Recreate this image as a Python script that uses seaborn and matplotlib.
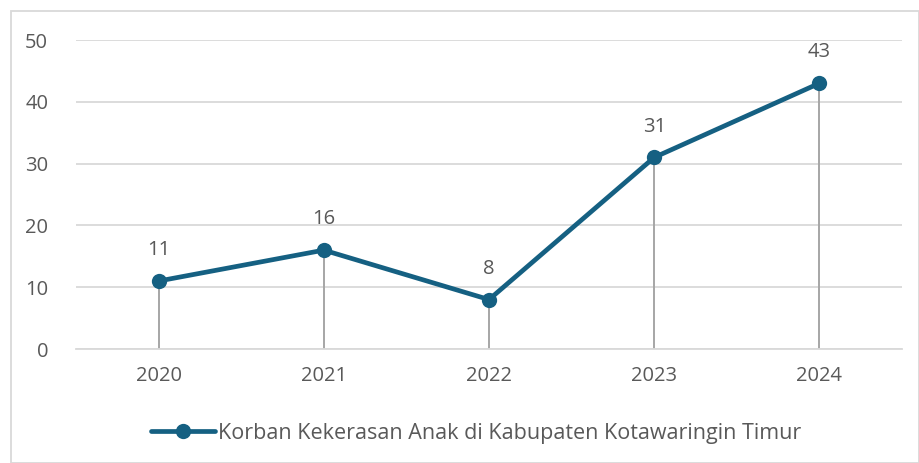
import matplotlib
matplotlib.use("Agg")
import matplotlib.pyplot as plt
import pandas as pd
import seaborn as sns
from matplotlib.patches import Rectangle

years = ["2020", "2021", "2022", "2023", "2024"]
victims = [11, 16, 8, 31, 43]
series_name = "Korban Kekerasan Anak di Kabupaten Kotawaringin Timur"

df = pd.DataFrame({"year": years, "value": victims})
df["pos"] = range(len(years))

sns.set_style("white")
plt.rcParams["font.family"] = ["Open Sans", "DejaVu Sans"]

line_color = "#156082"
text_color = "#595959"
fs = 14.5

fig = plt.figure(figsize=(9.19, 4.63), dpi=100)
ax = fig.add_axes([0.0827, 0.2462, 0.8988, 0.6674])

# drop lines
ax.vlines(df["pos"], 0, df["value"], color="#a6a6a6", lw=1.4, zorder=1)

sns.lineplot(data=df, x="pos", y="value", ax=ax, color=line_color, lw=3.4,
             marker="o", markersize=11, markeredgewidth=0, zorder=3,
             label=series_name)

for x, y in zip(df["pos"], df["value"]):
    ax.annotate(str(y), (x, y), xytext=(0, 15), textcoords="offset points",
                ha="center", va="bottom", fontsize=fs, color=text_color)

ax.set_xlim(-0.5, len(years) - 0.5)
ax.set_ylim(0, 50)
ax.set_yticks(range(0, 51, 10))
ax.set_xticks(df["pos"])
ax.set_xticklabels(years)
ax.yaxis.grid(True, color="#d9d9d9", lw=1.3)
ax.set_axisbelow(True)
ax.tick_params(axis="both", length=0, labelsize=fs, labelcolor=text_color)
ax.tick_params(axis="x", pad=12)
ax.tick_params(axis="y", pad=20)
ax.set_xlabel("")
ax.set_ylabel("")
for s in ax.spines.values():
    s.set_visible(False)
ax.spines["bottom"].set_visible(True)
ax.spines["bottom"].set_color("#d9d9d9")
ax.spines["bottom"].set_linewidth(1.3)

leg = ax.legend(loc="center", bbox_to_anchor=(0.484, -0.272), frameon=False,
                fontsize=15.5, handlelength=3.0, handletextpad=0.1)
for t in leg.get_texts():
    t.set_color(text_color)

fig.patches.append(Rectangle((11 / 919, 0), 1 - 11 / 919, 1 - 11 / 463,
                             transform=fig.transFigure, fill=False,
                             edgecolor="#d9d9d9", lw=1.3))

fig.savefig("out.png", dpi=100)
